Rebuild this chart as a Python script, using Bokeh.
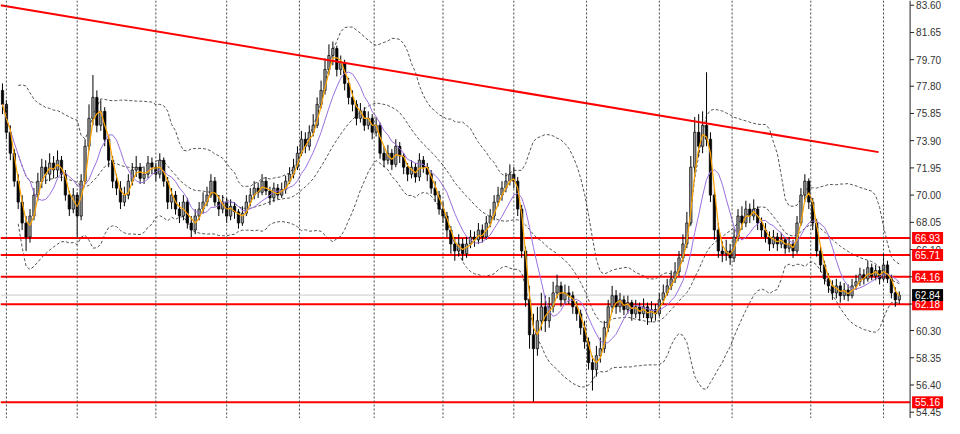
import numpy as np
import pandas as pd
from bokeh.plotting import figure
from bokeh.models import Range1d, Span
from bokeh.core.properties import value
from bokeh.embed import file_html
from bokeh.resources import INLINE

# ---------------- data ----------------
first_open = 77.5
close = [
    76.5, 74.5, 73.0, 71.0, 69.5, 68.0, 67.0, 68.5, 70.0, 71.0,
    72.0, 71.5, 72.3, 71.8, 72.5, 71.5, 70.0, 69.0, 70.0, 68.5,
    71.0, 73.5, 75.5, 77.0, 75.0, 76.0, 74.0, 72.5, 71.0, 70.5,
    69.5, 70.0, 71.0, 71.8, 72.0, 71.2, 71.5, 72.3, 72.0, 71.5,
    72.5, 71.0, 69.5, 70.0, 69.0, 68.5, 69.5, 68.0, 67.5, 68.5,
    69.0, 69.5, 70.0, 71.0, 69.5, 69.0, 69.5, 68.5, 69.2, 68.8,
    68.0, 68.7, 69.5, 70.0, 70.5, 70.2, 71.0, 70.3, 69.8, 70.5,
    70.0, 70.4, 71.0, 71.5, 72.0, 73.0, 74.0, 73.5, 74.5, 75.0,
    76.5, 77.5, 79.0, 80.0, 80.5, 79.0, 79.5, 78.0, 77.0, 76.5,
    75.5, 76.0, 75.0, 75.5, 74.5, 75.0, 73.0, 72.5, 73.0, 72.2,
    73.5, 72.8, 72.0, 71.5, 72.0, 71.3, 72.5, 72.0, 71.5, 70.5,
    70.0, 69.0, 68.5, 67.5, 66.5, 66.0, 66.5, 65.8, 66.5, 67.0,
    66.8, 67.5, 67.0, 68.0, 68.5, 69.5, 70.0, 70.5, 71.0, 71.5,
    71.0, 69.0, 66.0, 62.5, 60.0, 59.0, 61.0, 62.0, 61.0, 62.0,
    63.0, 63.5, 62.5, 63.0, 62.8, 62.0, 61.5, 60.5, 59.5, 58.0,
    57.5, 58.5, 59.0, 60.5, 62.0, 62.8, 62.0, 62.5, 61.8, 62.3,
    61.5, 62.0, 61.5, 62.0, 61.2, 61.8, 61.5, 62.5, 63.0, 63.5,
    64.0, 64.5, 65.5, 66.5, 68.0, 72.0, 74.5, 73.5, 75.0, 74.0,
    70.0, 67.5, 66.0, 65.8, 66.0, 65.5, 67.0, 68.5, 68.0, 69.0,
    68.5, 69.0, 68.0, 67.5, 67.0, 66.5, 67.0, 66.5, 66.8, 66.2,
    66.5, 66.0, 68.0, 70.0, 71.0, 69.5, 68.0, 66.0, 65.0, 64.0,
    63.5, 63.0, 63.5, 62.8, 63.2, 62.8, 63.5, 63.8, 64.3, 64.0,
    64.8, 64.2, 64.6, 64.0, 65.0, 64.0, 63.0, 62.5, 62.84,
]
high = [
    78.0, 76.8, 75.0, 73.3, 71.5, 70.0, 68.5, 69.0, 70.5, 71.6,
    72.6, 72.5, 73.0, 72.8, 73.2, 72.8, 71.8, 70.3, 70.5, 70.2,
    71.5, 74.0, 76.5, 78.6, 77.5, 76.8, 76.3, 74.3, 72.8, 71.5,
    71.0, 70.6, 71.5, 72.3, 72.8, 72.3, 72.0, 72.8, 72.7, 72.3,
    73.0, 72.7, 71.3, 70.5, 70.3, 69.5, 70.0, 69.8, 68.5, 69.0,
    69.5, 70.2, 70.6, 71.5, 71.3, 70.0, 70.0, 69.8, 69.7, 69.5,
    69.0, 69.2, 70.0, 70.5, 71.0, 70.9, 71.5, 71.3, 70.6, 70.9,
    70.8, 70.9, 71.4, 72.0, 72.6, 73.5, 74.6, 74.5, 75.0, 75.8,
    77.0, 78.2, 79.8, 80.8, 81.0, 80.7, 80.0, 79.7, 78.4, 77.5,
    76.8, 76.6, 76.3, 76.0, 75.8, 75.6, 75.2, 73.5, 73.6, 73.3,
    74.0, 73.8, 73.0, 72.3, 72.5, 72.3, 73.0, 72.8, 72.3, 71.8,
    71.0, 70.3, 69.5, 68.8, 67.8, 67.0, 67.2, 66.9, 67.0, 67.5,
    67.4, 68.0, 67.9, 68.5, 69.0, 70.0, 70.6, 71.0, 71.6, 72.2,
    72.0, 71.3, 69.3, 66.3, 63.5, 61.5, 62.0, 63.0, 62.8, 62.7,
    63.8, 64.3, 63.8, 63.6, 63.5, 63.1, 62.4, 61.8, 61.0, 59.8,
    58.5, 59.2, 59.8, 61.0, 62.5, 63.5, 63.2, 63.0, 62.8, 62.8,
    62.5, 62.5, 62.3, 62.6, 62.3, 62.4, 62.2, 63.0, 63.6, 64.0,
    64.6, 65.2, 66.0, 67.2, 68.8, 72.8, 75.6, 75.8, 76.0, 78.8,
    74.5, 70.5, 68.0, 66.7, 66.8, 66.5, 67.6, 69.0, 69.2, 69.6,
    69.4, 69.7, 69.2, 68.4, 68.0, 67.4, 67.5, 67.3, 67.3, 67.0,
    67.0, 66.8, 68.5, 70.5, 71.5, 71.2, 69.8, 68.3, 66.3, 65.3,
    64.4, 63.9, 64.0, 63.8, 63.7, 63.6, 64.0, 64.3, 64.8, 64.7,
    65.3, 65.1, 65.0, 64.9, 65.8, 65.3, 64.3, 63.4, 63.1,
]
low = [
    75.8, 74.0, 72.5, 70.6, 69.0, 67.5, 66.0, 66.6, 68.2, 69.6,
    70.5, 70.8, 71.0, 71.2, 71.3, 71.0, 69.6, 68.5, 68.7, 67.0,
    68.2, 70.8, 73.2, 75.0, 74.5, 74.6, 73.5, 72.0, 70.5, 70.0,
    69.0, 69.2, 69.7, 70.7, 71.3, 70.8, 70.8, 71.2, 71.5, 71.0,
    71.2, 70.6, 69.0, 69.0, 68.6, 68.0, 68.2, 67.6, 67.0, 67.2,
    68.2, 68.7, 69.2, 69.8, 69.2, 68.5, 68.7, 68.0, 68.2, 68.3,
    67.6, 67.8, 68.5, 69.2, 69.7, 69.8, 70.0, 70.0, 69.3, 69.5,
    69.7, 69.8, 70.1, 70.8, 71.2, 71.8, 72.8, 73.0, 73.2, 74.2,
    74.8, 76.2, 77.2, 78.6, 79.3, 78.5, 78.6, 77.5, 76.5, 76.0,
    75.0, 75.2, 74.6, 74.7, 74.0, 74.2, 72.6, 72.0, 72.2, 71.8,
    72.0, 72.3, 71.5, 71.0, 71.2, 70.9, 71.0, 71.6, 71.0, 70.1,
    69.5, 68.6, 68.0, 67.0, 65.8, 65.3, 65.6, 65.3, 65.5, 66.2,
    66.3, 66.5, 66.6, 66.8, 67.7, 68.2, 69.2, 69.6, 70.2, 70.7,
    70.5, 68.5, 65.5, 62.0, 59.0, 55.2, 58.5, 60.3, 60.2, 60.5,
    61.6, 62.6, 62.0, 62.2, 62.2, 61.5, 61.0, 60.0, 59.0, 57.5,
    56.0, 57.0, 58.0, 58.7, 60.2, 61.6, 61.5, 61.6, 61.4, 61.5,
    61.0, 61.2, 61.0, 61.2, 60.7, 60.9, 61.0, 61.3, 62.2, 62.8,
    63.2, 63.7, 64.2, 65.2, 66.2, 67.8, 71.5, 72.8, 73.0, 73.5,
    69.5, 66.8, 65.5, 65.2, 65.3, 65.0, 65.2, 66.7, 67.5, 67.7,
    68.0, 68.2, 67.5, 67.0, 66.6, 66.0, 66.2, 66.0, 66.2, 65.8,
    65.9, 65.5, 65.8, 67.8, 69.5, 69.0, 67.5, 65.6, 64.5, 63.6,
    63.0, 62.5, 62.6, 62.3, 62.5, 62.4, 62.6, 63.2, 63.5, 63.6,
    63.8, 63.9, 63.9, 63.6, 63.8, 63.7, 62.6, 62.0, 62.2,
]
period_starts = [1, 19, 39, 57, 75.5, 94.5, 112, 130, 148.5, 167, 185.5, 205.5, 224]
levels = [66.93, 65.71, 64.16, 62.18, 55.16]
current_price = 62.84
trend_idx = [-0.5, 222.75]
trend_price = [83.60, 73.08]
y_ticks = [83.60, 81.65, 79.70, 77.80, 75.85, 73.90, 71.95, 70.00, 68.05,
           66.10, 64.15, 62.20, 60.30, 58.35, 56.40, 54.45]
fast_period = 3
slow_period = 8
bb_period = 20

# ---------------- derived ----------------
n = len(close)
idx = np.arange(n)
c = np.array(close)
o = np.concatenate([[first_open], c[:-1]])
h = np.maximum(np.array(high), np.maximum(o, c))
l = np.minimum(np.array(low), np.minimum(o, c))
s = pd.Series(c)
ma_fast = s.rolling(fast_period, min_periods=1).mean().values
ma_slow = s.rolling(slow_period, min_periods=1).mean().values
bb_mid = s.rolling(bb_period, min_periods=5).mean()
bb_std = s.rolling(bb_period, min_periods=5).std(ddof=0)
bb_up = (bb_mid + 2 * bb_std).values
bb_dn = (bb_mid - 2 * bb_std).values
bb_mid = bb_mid.values
bull = c >= o

# chart geometry (in candle-index units / price units)
X0, X1 = -0.5, 239.5          # full canvas width
AX = 230.75                   # price scale line position
Y0, Y1 = 54.00, 83.94
px_per_price = 418 / (Y1 - Y0)
px_per_idx = 944 / (X1 - X0)

p = figure(width=944, height=418, output_backend="svg", toolbar_location=None,
           x_range=Range1d(X0, X1), y_range=Range1d(Y0, Y1),
           x_axis_location=None, y_axis_location=None, min_border=0)
p.grid.visible = False
p.outline_line_color = None
p.background_fill_color = "white"

# period separators
for ps in period_starts:
    p.add_layout(Span(location=ps, dimension="height", line_color="#444444",
                      line_dash="2 2", line_width=1))

# Bollinger bands
for band in (bb_up, bb_mid, bb_dn):
    p.line(idx, band, line_color="#555555", line_dash="3 2", line_width=1)

# horizontal levels (end at the price scale)
p.segment(X0, current_price, AX, current_price, line_color="#c8c8d0", line_width=1)
p.segment([X0] * len(levels), levels, [AX] * len(levels), levels,
          line_color="#ff0000", line_width=2)

# candles
p.segment(idx, h, idx, l, line_color="black", line_width=1)
p.vbar(idx[bull], width=0.6, top=c[bull], bottom=o[bull],
       fill_color="#9a9a9a", line_color="black", line_width=0.7)
p.vbar(idx[~bull], width=0.6, top=o[~bull], bottom=c[~bull],
       fill_color="black", line_color="black", line_width=0.7)

# moving averages
p.line(idx, ma_slow, line_color="#9b6fe0", line_width=1)
p.line(idx, ma_fast, line_color="#ffa500", line_width=1.2)

# trend line
p.line(trend_idx, trend_price, line_color="#ff0000", line_width=2)

# ---- price scale (MT4 style) ----
tick_len = 4 / px_per_idx
p.add_layout(Span(location=AX, dimension="height", line_color="#222222", line_width=1))
p.segment([AX] * len(y_ticks), y_ticks, [AX + tick_len] * len(y_ticks), y_ticks,
          line_color="#222222", line_width=1)
p.text([AX + 6 / px_per_idx] * len(y_ticks), y_ticks,
       text=[f"{t:.2f}" for t in y_ticks], text_font=value("Liberation Sans"),
       text_font_size="10px", text_color="#333333", text_baseline="middle",
       text_align="left")

box_h = 12 / px_per_price
box_l = AX + 2 / px_per_idx
box_r = AX + 33 / px_per_idx
p.quad(left=box_l, right=box_r, top=[v + box_h / 2 for v in levels],
       bottom=[v - box_h / 2 for v in levels], fill_color="#ff0000", line_color=None)
p.quad(left=box_l, right=box_r, top=current_price + box_h / 2,
       bottom=current_price - box_h / 2, fill_color="black", line_color=None)
tag_vals = levels + [current_price]
p.text([AX + 5 / px_per_idx] * len(tag_vals), tag_vals,
       text=[f"{v:.2f}" for v in tag_vals], text_font=value("Liberation Sans"),
       text_font_size="10px", text_color="white", text_baseline="middle",
       text_align="left")

open("out.html", "w").write(file_html(p, INLINE))
